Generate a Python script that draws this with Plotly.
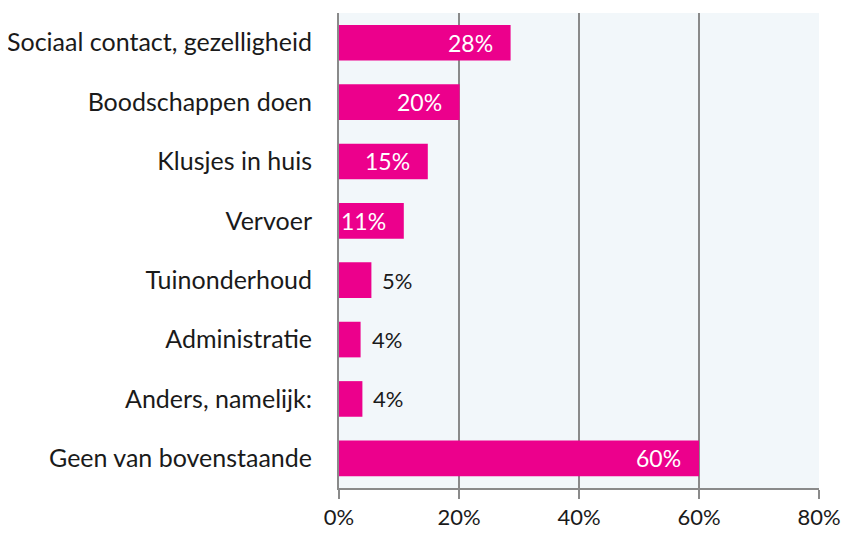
import plotly.graph_objects as go

categories = ["Sociaal contact, gezelligheid", "Boodschappen doen", "Klusjes in huis",
              "Vervoer", "Tuinonderhoud", "Administratie", "Anders, namelijk:",
              "Geen van bovenstaande"]
values = [28.6, 20.1, 14.8, 10.8, 5.4, 3.6, 3.9, 60.0]
labels = ["28%", "20%", "15%", "11%", "5%", "4%", "4%", "60%"]
inside = [True, True, True, True, False, False, False, True]
tick_vals = [0, 20, 40, 60, 80]
tick_text = ["0%", "20%", "40%", "60%", "80%"]

FONT = "Lato"
TXT = "#1a1a1a"

fig = go.Figure(go.Bar(
    y=categories, x=values, orientation="h",
    marker=dict(color="#EC008C", line=dict(width=0)),
    width=0.6,
    hoverinfo="skip",
))

for cat, v, lab, ins in zip(categories, values, labels, inside):
    fig.add_annotation(
        x=v, y=cat, xref="x", yref="y", text=lab, showarrow=False,
        xanchor="right" if ins else "left",
        xshift=-16 if ins else 9,
        font=dict(family=FONT, size=23 if ins else 22, color="white" if ins else TXT),
    )

# page body adds an 8px offset; compensate so plot area lands where the reference has it
fig.update_layout(
    width=841, height=525,
    margin=dict(l=331, r=30, t=5, b=45, autoexpand=False),
    paper_bgcolor="white", plot_bgcolor="#F2F7FA",
    showlegend=False,
    font=dict(family=FONT, size=22, color=TXT),
)
fig.update_xaxes(
    range=[0, 80], tickvals=tick_vals, ticktext=tick_text,
    showgrid=True, gridcolor="#8a8a8a", gridwidth=2,
    zeroline=False, showline=True, linecolor="#8a8a8a", linewidth=2,
    ticks="outside", ticklen=9, tickwidth=2, tickcolor="#8a8a8a",
    tickfont=dict(family=FONT, size=22, color=TXT),
    fixedrange=True,
)
fig.update_yaxes(
    categoryorder="array", categoryarray=categories[::-1],
    showline=True, linecolor="#8a8a8a", linewidth=2,
    showgrid=False, ticks="", ticklabelstandoff=20,
    tickfont=dict(family=FONT, size=25, color=TXT),
    fixedrange=True,
)
fig.write_html("out.html")
